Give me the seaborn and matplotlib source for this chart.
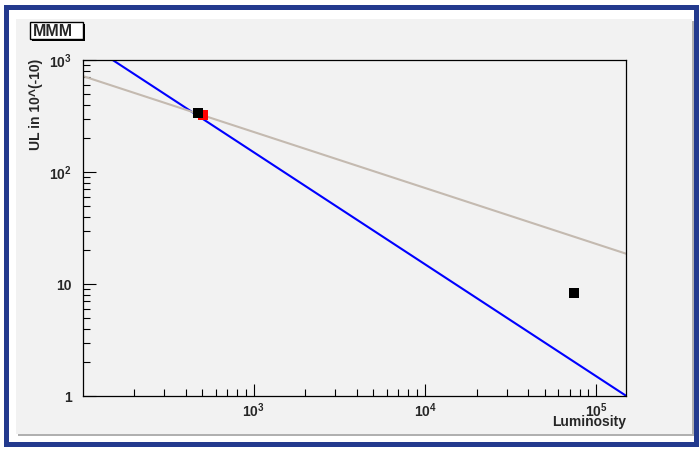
import matplotlib
matplotlib.use("Agg")
import matplotlib.pyplot as plt
from matplotlib.patches import Rectangle
from matplotlib.ticker import LogLocator, FixedLocator, FixedFormatter, NullFormatter
import pandas as pd
import seaborn as sns

# curve endpoints (power laws are straight on log-log axes)
blue_x = [100, 150000]
blue_y = [1500, 1.0]
gray_x = [100, 150000]
gray_y = [720, 18.6]

# measured points
black_x = [473, 74300]
black_y = [336, 8.3]
red_x = [506]
red_y = [323]

xticks = [1e3, 1e4, 1e5]
xticklabels = [r"$10^{3}$", r"$10^{4}$", r"$10^{5}$"]
yticks = [1, 10, 100, 1000]
yticklabels = ["1", "10", r"$10^{2}$", r"$10^{3}$"]

sns.set_style("ticks")
plt.rcParams["font.family"] = ["Liberation Sans", "DejaVu Sans"]
plt.rcParams["font.weight"] = "bold"
plt.rcParams["mathtext.fontset"] = "custom"
plt.rcParams["mathtext.rm"] = "Liberation Sans:bold"
plt.rcParams["mathtext.bf"] = "Liberation Sans:bold"
plt.rcParams["mathtext.it"] = "Liberation Sans:bold"

W, H = 699, 449
fig = plt.figure(figsize=(W / 100, H / 100), dpi=100, facecolor="white")


def px(x, y, w, h):
    # pixel box (top-left origin) -> figure fraction
    return (x / W, 1 - (y + h) / H), w / W, h / H


def box(x, y, w, h, **kw):
    xy, fw, fh = px(x, y, w, h)
    fig.add_artist(Rectangle(xy, fw, fh, transform=fig.transFigure, **kw))


# canvas frame
box(5.5, 6.5, 690, 437, fill=False, edgecolor="#233a8e", linewidth=3.6, zorder=0)
box(18, 21, 676, 415, facecolor="#b0b0b0", edgecolor="none", zorder=0)
box(16, 19, 676, 415, facecolor="#f2f2f2", edgecolor="none", zorder=0)

# title box
box(32, 24, 53, 17, facecolor="black", edgecolor="none", zorder=1)
box(30, 22, 53, 17, facecolor="white", edgecolor="black", linewidth=1.0, zorder=2)
fig.text(53 / W, 1 - 31 / H, "MMM", ha="center", va="center",
         fontsize=11.5, fontweight="bold", zorder=3)

ax = fig.add_axes([82.5 / W, 1 - 396 / H, (626.4 - 82.5) / W, (396 - 60) / H])
ax.set_facecolor("#f2f2f2")

lines = pd.DataFrame({
    "x": blue_x + gray_x,
    "y": blue_y + gray_y,
    "curve": ["blue"] * 2 + ["gray"] * 2,
})
sns.lineplot(data=lines, x="x", y="y", hue="curve",
             palette={"blue": "#0000ff", "gray": "#c4bab0"},
             linewidth=1.5, legend=False, ax=ax, zorder=2)
sns.scatterplot(x=red_x, y=red_y, color="#ff0000", marker="s", s=48,
                edgecolor="none", ax=ax, zorder=3)
sns.scatterplot(x=black_x, y=black_y, color="black", marker="s", s=48,
                edgecolor="none", ax=ax, zorder=4)

ax.set_xscale("log")
ax.set_yscale("log")
ax.set_xlim(100, 150000)
ax.set_ylim(1, 1000)

ax.xaxis.set_major_locator(FixedLocator(xticks))
ax.xaxis.set_major_formatter(FixedFormatter(xticklabels))
ax.xaxis.set_minor_locator(LogLocator(base=10, subs=range(2, 10), numticks=20))
ax.xaxis.set_minor_formatter(NullFormatter())
ax.yaxis.set_major_locator(FixedLocator(yticks))
ax.yaxis.set_major_formatter(FixedFormatter(yticklabels))
ax.yaxis.set_minor_locator(LogLocator(base=10, subs=range(2, 10), numticks=20))
ax.yaxis.set_minor_formatter(NullFormatter())

ax.tick_params(which="both", direction="in", top=False, right=False,
               color="black", width=0.8, labelsize=10)
ax.tick_params(which="major", length=9)
ax.tick_params(which="minor", length=5)
ax.tick_params(axis="x", which="major", pad=4)
ax.tick_params(axis="y", which="major", pad=8)
for sp in ax.spines.values():
    sp.set_visible(True)
    sp.set_color("black")
    sp.set_linewidth(0.9)

ax.set_xlabel("")
ax.set_ylabel("")
fig.text(626 / W, 1 - 422 / H, "Luminosity", ha="right", va="center",
         fontsize=10, fontweight="bold")
fig.text(36 / W, 1 - 59 / H, "UL in 10^(-10)", ha="center", va="top",
         rotation=90, fontsize=10, fontweight="bold")

fig.savefig("out.png", dpi=100, facecolor="white")
